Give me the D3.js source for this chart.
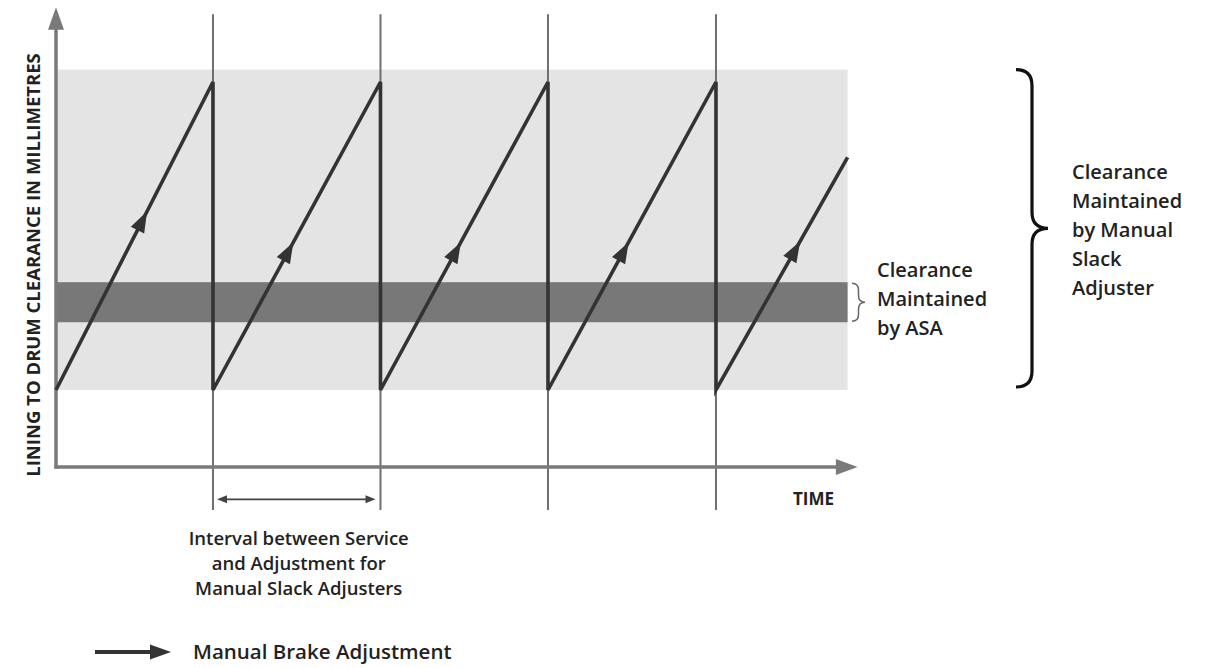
<!DOCTYPE html>
<html>
<head>
<meta charset="utf-8">
<script src="https://cdn.jsdelivr.net/npm/d3@7/dist/d3.min.js"></script>
<style>
  html, body { margin: 0; padding: 0; background: #fff; }
  svg { display: block; }
  text { font-family: "Open Sans", "Noto Sans", sans-serif; fill: #222; }
</style>
</head>
<body>
<svg id="chart" width="1217" height="668"></svg>
<script>
// ---- data (time in service units, clearance in relative mm units) ----
const serviceTimes = [0.94, 1.943, 2.946, 3.952];           // manual adjustment events
const sawtoothTime = [0, 0.94, 0.94, 1.943, 1.943, 2.946, 2.946, 3.952, 3.952, 4.74];
const sawtoothClearance = [0.5, 2.5, 0.5, 2.5, 0.5, 2.5, 0.5, 2.5, 0.5, 2.01];
const arrowFractions = [0.58, 0.48, 0.48, 0.48, 0.64];      // where the direction arrow sits on each rise
const manualRange = [0.5, 2.58];                             // clearance band, manual slack adjuster
const asaRange = [0.94, 1.2];                                // clearance band, ASA
const timeExtent = [0, 4.8];
const bandEnd = 4.74;
const yAxisLabel = "LINING TO DRUM CLEARANCE IN MILLIMETRES";
const xAxisLabel = "TIME";
const asaLabel = ["Clearance", "Maintained", "by ASA"];
const manualLabel = ["Clearance", "Maintained", "by Manual", "Slack", "Adjuster"];
const intervalLabel = ["Interval between Service", "and Adjustment for", "Manual Slack Adjusters"];
const legendLabel = "Manual Brake Adjustment";

const svg = d3.select("#chart");
const x = d3.scaleLinear().domain(timeExtent).range([56, 857.6]);
const y = d3.scaleLinear().domain([0, 3]).range([467, 5]);

// bands
svg.append("rect")
  .attr("x", x(0)).attr("width", x(bandEnd) - x(0))
  .attr("y", y(manualRange[1])).attr("height", y(manualRange[0]) - y(manualRange[1]))
  .attr("fill", "#e4e4e4");
svg.append("rect")
  .attr("x", x(0)).attr("width", x(bandEnd) - x(0))
  .attr("y", y(asaRange[1])).attr("height", y(asaRange[0]) - y(asaRange[1]))
  .attr("fill", "#787878");

// service lines
svg.selectAll("line.service").data(serviceTimes).join("line")
  .attr("class", "service")
  .attr("x1", d => x(d)).attr("x2", d => x(d))
  .attr("y1", y(2.94)).attr("y2", y(-0.28))
  .attr("stroke", "#6f6f6f").attr("stroke-width", 2);

// axes
const axisColor = "#7a7a7a";
svg.append("line").attr("x1", x(0)).attr("x2", x(0)).attr("y1", y(0) + 1.5).attr("y2", y(2.86))
  .attr("stroke", axisColor).attr("stroke-width", 3.5);
svg.append("path")
  .attr("d", `M${x(0)},${y(2.985)} L${x(0) - 8},${y(2.84)} L${x(0) + 8},${y(2.84)} Z`)
  .attr("fill", axisColor);
svg.append("line").attr("x1", x(0) - 1.5).attr("x2", x(4.69)).attr("y1", y(0)).attr("y2", y(0))
  .attr("stroke", axisColor).attr("stroke-width", 3.5);
svg.append("path")
  .attr("d", `M${x(timeExtent[1])},${y(0)} L${x(4.67)},${y(0) - 8} L${x(4.67)},${y(0) + 8} Z`)
  .attr("fill", axisColor);

// sawtooth
const pts = sawtoothTime.map((t, i) => [x(t), y(sawtoothClearance[i])]);
svg.append("path")
  .attr("d", d3.line()(pts))
  .attr("fill", "none").attr("stroke", "#333").attr("stroke-width", 3.6)
  .attr("stroke-linejoin", "miter");

// direction arrows on rising segments
const lineColor = "#333";
for (let i = 0; i < arrowFractions.length; i++) {
  const p0 = pts[2 * i], p1 = pts[2 * i + 1];
  const f = arrowFractions[i];
  const tx = p0[0] + (p1[0] - p0[0]) * f, ty = p0[1] + (p1[1] - p0[1]) * f;
  const ang = Math.atan2(p1[1] - p0[1], p1[0] - p0[0]) * 180 / Math.PI;
  svg.append("path")
    .attr("d", "M0,0 L-21,-7.5 L-21,7.5 Z")
    .attr("transform", `translate(${tx},${ty}) rotate(${ang})`)
    .attr("fill", lineColor);
}

// interval arrow
const iy = y(-0.21);
const ix0 = x(serviceTimes[0]) + 4, ix1 = x(serviceTimes[1]) - 5;
svg.append("line").attr("x1", ix0 + 6).attr("x2", ix1 - 6).attr("y1", iy).attr("y2", iy)
  .attr("stroke", "#444").attr("stroke-width", 1.6);
svg.append("path").attr("d", `M${ix0},${iy} L${ix0 + 10},${iy - 4} L${ix0 + 10},${iy + 4} Z`).attr("fill", "#444");
svg.append("path").attr("d", `M${ix1},${iy} L${ix1 - 10},${iy - 4} L${ix1 - 10},${iy + 4} Z`).attr("fill", "#444");

// braces
function brace(x0, y0, y1, w, q) {
  const m = (y0 + y1) / 2, xm = x0 + w / 2;
  return `M${x0},${y0} Q${xm},${y0} ${xm},${y0 + q} L${xm},${m - q} Q${xm},${m} ${x0 + w},${m}` +
         ` Q${xm},${m} ${xm},${m + q} L${xm},${y1 - q} Q${xm},${y1} ${x0},${y1}`;
}
svg.append("path").attr("d", brace(852, y(asaRange[1]) + 1, y(asaRange[0]) - 1, 13, 7))
  .attr("fill", "none").attr("stroke", "#666").attr("stroke-width", 1.5);
svg.append("path").attr("d", brace(1016, y(manualRange[1]), y(manualRange[0]) - 3, 32, 16))
  .attr("fill", "none").attr("stroke", "#111").attr("stroke-width", 3.2);

// labels
function multiline(lines, xPos, y0, dy, anchor, size) {
  const t = svg.append("text").attr("font-size", size).attr("font-weight", 600)
    .attr("text-anchor", anchor);
  lines.forEach((s, i) => t.append("tspan").attr("x", xPos).attr("y", y0 + i * dy).text(s));
}
multiline(asaLabel, 877, 277, 29, "start", 20);
multiline(manualLabel, 1072, 179, 29, "start", 20);
multiline(intervalLabel, (x(serviceTimes[0]) + x(serviceTimes[1])) / 2 + 2, 545, 25, "middle", 18.5);

svg.append("text").attr("x", 793).attr("y", 505).attr("font-size", 17).attr("font-weight", 700)
  .text(xAxisLabel);

svg.append("text")
  .attr("transform", `translate(40,265) rotate(-90)`)
  .attr("text-anchor", "middle").attr("font-size", 18.5).attr("font-weight", 700)
  .text(yAxisLabel);

// legend
svg.append("line").attr("x1", 95).attr("x2", 155).attr("y1", 652).attr("y2", 652)
  .attr("stroke", lineColor).attr("stroke-width", 4);
svg.append("path").attr("d", "M171,652 L150,644.5 L150,659.5 Z").attr("fill", lineColor);
svg.append("text").attr("x", 193).attr("y", 659).attr("font-size", 20.5).attr("font-weight", 600)
  .text(legendLabel);
</script>
</body>
</html>
